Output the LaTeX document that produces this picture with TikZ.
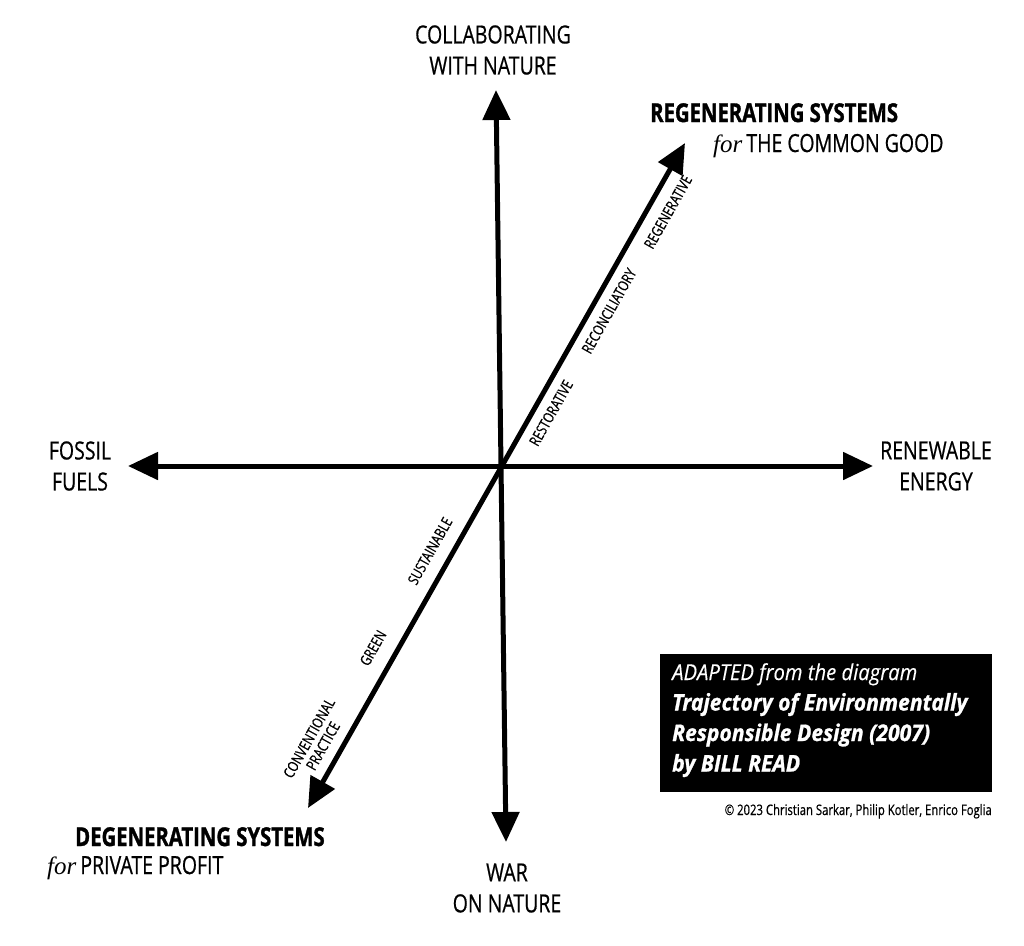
\documentclass[tikz,border=0pt]{standalone}
\usepackage{fontspec}
\setmainfont{Open Sans}[FakeStretch=0.78, FakeBold=0.6, BoldFeatures={FakeBold=1.2}, BoldItalicFeatures={FakeBold=1.0}]
\newfontfamily\boxfont{Open Sans}[FakeStretch=0.92, FakeBold=0.3, BoldItalicFeatures={FakeBold=1.0}]
\newfontfamily\forfont{Liberation Serif}
\usetikzlibrary{arrows.meta}
\begin{document}
\begin{tikzpicture}[x=1pt,y=-1pt,
  ax/.style={line width=5pt,{Triangle[length=30pt,width=27pt]}-{Triangle[length=30pt,width=27pt]}},
  big/.style={font=\fontsize{25}{31}\selectfont, align=center, inner sep=0pt},
  head/.style={font=\fontsize{26}{30}\selectfont\bfseries, inner sep=0pt},
  sub/.style={font=\fontsize{25}{30}\selectfont, inner sep=0pt},
  diag/.style={font=\fontsize{15}{16}\selectfont, rotate=60.6, inner sep=0pt, align=center},
  boxtext/.style={font=\boxfont\fontsize{23}{30.5}\selectfont, text=white, align=left, inner sep=0pt},
  copy/.style={font=\fontsize{14.5}{16}\selectfont, inner sep=0pt}]
\useasboundingbox (0,0) rectangle (1024,945);
% axis end points
\coordinate (N) at (496,90);
\coordinate (S) at (506,842);
\coordinate (W) at (128,466);
\coordinate (E) at (873,466);
\coordinate (NE) at (685,143);
\coordinate (SW) at (308,808);
\draw[ax] (S) -- (N);
\draw[ax] (W) -- (E);
\draw[ax] (SW) -- (NE);
% end labels
\node[big] (collab) at (493,50) {COLLABORATING\\WITH NATURE};
\node[big] (war) at (507,888) {WAR\\ON NATURE};
\node[big] (fossil) at (80,466) {FOSSIL\\FUELS};
\node[big] (renew) at (936,466) {RENEWABLE\\ENERGY};
\node[head, anchor=base west] (regen) at (650,122) {REGENERATING SYSTEMS};
\node[sub, anchor=base west] (common) at (713,152) {{\forfont\itshape for}\kern4pt THE COMMON GOOD};
\node[head, anchor=base west] (degen) at (75,846) {DEGENERATING SYSTEMS};
\node[sub, anchor=base west] (private) at (47,874) {{\forfont\itshape for}\kern4pt PRIVATE PROFIT};
% diagonal stage labels
\node[diag] (regtv) at (668,212) {REGENERATIVE};
\node[diag] (recon) at (609,311) {RECONCILIATORY};
\node[diag] (resto) at (551,413) {RESTORATIVE};
\node[diag] (sust) at (430,551) {SUSTAINABLE};
\node[diag] (green) at (373,648) {GREEN};
\node[diag] (conv) at (316,742) {CONVENTIONAL\\PRACTICE};
% source box
\node[fill=black, minimum width=332pt, minimum height=138pt, anchor=north west, inner sep=0pt] (box) at (660,654) {};
\node[boxtext, anchor=north west] (src) at (672,663) {{\fontsize{22}{30.5}\selectfont\itshape ADAPTED from the diagram}\\
\bfseries\itshape Trajectory of Environmentally\\
\bfseries\itshape Responsible Design (2007)\\
\bfseries\itshape by BILL READ};
\node[copy, anchor=base east] (cpr) at (992,815) {© 2023 Christian Sarkar, Philip Kotler, Enrico Foglia};
\end{tikzpicture}
\end{document}
